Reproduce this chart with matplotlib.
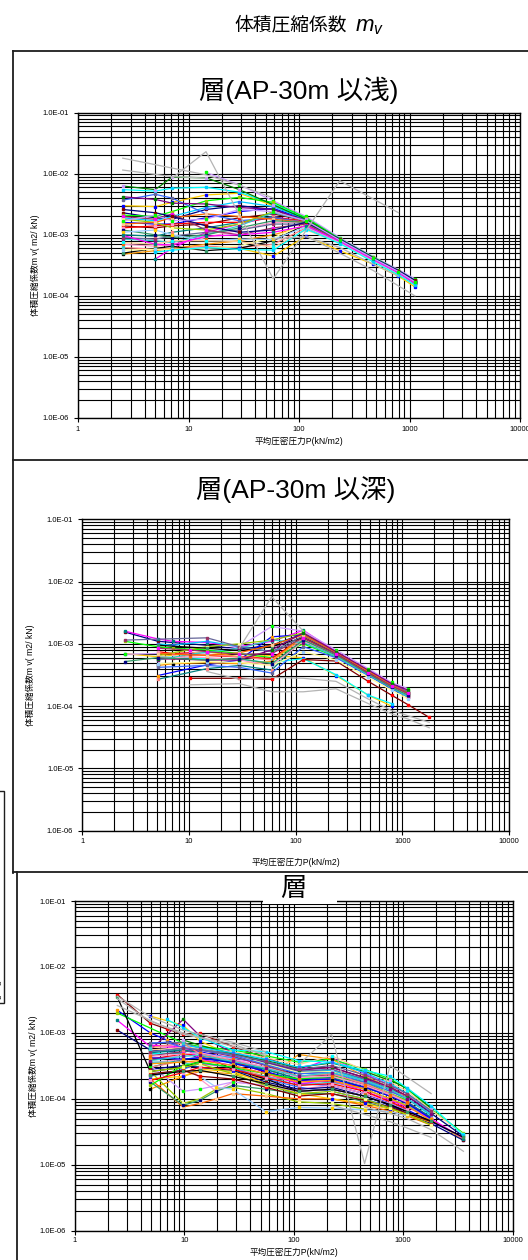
import numpy as np
import matplotlib
matplotlib.use("Agg")
import matplotlib.pyplot as plt
from matplotlib.ticker import LogLocator, NullFormatter
from matplotlib.lines import Line2D
from matplotlib.patches import Rectangle

plt.rcParams['font.family'] = ['Liberation Sans', 'Noto Sans CJK JP', 'DejaVu Sans']
plt.rcParams['mathtext.fontset'] = 'custom'
plt.rcParams['mathtext.it'] = 'Liberation Sans:italic'
plt.rcParams['mathtext.rm'] = 'Liberation Sans'

# ---------------------------------------------------------------- text
MAIN_TITLE = '体積圧縮係数'
MAIN_TITLE_SYMBOL = '$m_v$'
PANEL_TITLES = ['層(AP-30m 以浅)', '層(AP-30m 以深)', '層']
X_LABEL = '平均圧密圧力P(kN/m2)'
Y_LABEL = '体積圧縮係数m v( m2/ kN)'
X_TICKS = [1, 10, 100, 1000, 10000]
X_TICK_LABELS = ['1', '10', '100', '1000', '10000']
Y_TICKS = [1e-6, 1e-5, 1e-4, 1e-3, 1e-2, 1e-1]
Y_TICK_LABELS = ['1.0E-06', '1.0E-05', '1.0E-04', '1.0E-03', '1.0E-02', '1.0E-01']

UNIT = 1e-3  # coefficient values below are given in 1e-3 m2/kN

PALETTE = ['#000080', '#FF00FF', '#FFCC00', '#00FFFF', '#CC99FF', '#800000',
           '#008080', '#0000FF', '#00CCFF', '#00FF00', '#FF0000', '#FF8080',
           '#FF9900', '#3366FF', '#99CC00', '#FF99CC', '#33CCCC', '#000000',
           '#666699', '#FFFF99', '#FF6600', '#800080', '#339966', '#993366',
           '#99CCFF', '#FFCC99', '#008000']
GRAY = '#B4B4B4'

# ---------------------------------------------------------------- upper layer (shallower than AP-30m)
P1 = [2.54, 5.0, 7.1, 14.4, 28.8, 58.5, 115.7, 234, 470, 795, 1120]
MV1 = [
    [2.3, 1.9, 1.8, 2.6, 3.0, 2.6, 1.7, 0.82, 0.41, None, 0.17],
    [None, 0.40, 0.60, 1.1, 1.5, 2.0, 1.6, 0.80, 0.40, 0.25, 0.18],
    [3.0, 2.9, 3.4, 4.5, 4.8, 3.0, 1.8, 0.85, 0.42, 0.26, 0.17],
    [5.5, 5.2, 5.8, 6.0, 5.0, 3.2, 1.9, 0.88, 0.43, None, 0.18],
    [None, None, None, 10.5, 6.6, 3.6, 2.0, 0.90, 0.44, 0.27, 0.19],
    [1.4, 1.3, 1.4, 1.5, 1.9, 2.2, 1.7, 0.80, 0.40, None, 0.16],
    [1.0, 0.95, 1.1, 1.3, 1.6, 2.0, 1.5, 0.78, 0.39, 0.24, 0.16],
    [1.6, 1.5, 1.5, 1.9, 2.4, 2.7, 1.8, 0.83, 0.41, 0.25, 0.17],
    [1.9, 1.7, 2.0, 2.8, 3.5, 2.9, 1.8, 0.84, 0.42, None, 0.17],
    [2.1, 2.0, 2.4, 3.6, 4.1, 3.4, 1.9, 0.86, 0.43, 0.26, 0.18],
    [1.3, 1.4, 1.5, 1.6, 1.6, 1.9, 1.7, 0.82, 0.41, 0.25, 0.17],
    [0.62, 0.58, 0.60, 0.65, 0.62, 0.70, 1.3, 0.75, 0.38, 0.23, 0.155],
    [0.48, 0.55, 0.60, 0.70, 0.80, 1.0, 1.4, 0.78, 0.40, 0.26, 0.17],
    [3.7, 4.6, 4.0, 2.2, 1.7, 1.9, 1.6, 0.80, 0.40, 0.25, 0.165],
    [1.8, 1.6, 1.3, 1.2, 1.5, 2.4, 1.7, 0.81, None, None, None],
    [0.70, 0.65, 0.70, 0.9, 1.2, 1.6, 1.6, 0.80, 0.40, 0.24, 0.16],
    [0.85, 0.80, 0.75, 1.0, 1.4, 2.3, 1.7, 0.81, 0.40, 0.25, 0.17],
    [0.50, 0.60, 0.65, 0.55, 0.60, 0.80, 1.5, 0.78, 0.39, 0.24, 0.16],
    [0.90, 0.85, 0.95, 1.1, 1.2, 1.5, 1.5, 0.79, 0.39, None, 0.16],
    [0.56, 0.58, 0.58, 0.60, 0.66, 0.9, 1.5, 0.80, 0.40, 0.25, 0.17],
    [1.5, 1.6, 1.9, 2.2, 2.0, 1.8, 1.6, 0.79, 0.40, 0.25, 0.165],
    [4.2, 3.8, 3.3, 3.2, 2.8, 2.6, 1.7, 0.83, 0.41, 0.25, 0.17],
    [1.2, 1.0, 0.9, 1.0, 1.3, 1.7, 1.6, 0.80, 0.40, 0.25, 0.17],
    [2.0, 1.8, 2.2, 1.2, 1.0, 1.3, 1.5, 0.79, 0.39, None, 0.16],
    [1.1, 1.2, 1.0, 0.80, 0.85, 0.84, 1.35, 0.76, 0.38, 0.23, 0.15],
    [0.75, 0.70, 0.80, 0.80, 0.78, 0.62, 1.2, 0.74, 0.37, 0.22, 0.15],
    [6.3, 5.5, 8.8, 8.6, 5.5, 3.1, 1.8, 0.84, 0.42, None, None],
    [2.6, 2.3, 2.0, 1.4, 1.1, 1.2, 1.6, 0.85, 0.42, 0.26, 0.18],
    [0.98, 0.70, 0.68, 0.95, 1.0, 1.1, 1.4, 0.78, 0.39, 0.24, 0.16],
    [None, None, None, None, 0.60, 0.45, 0.95, 0.55, 0.33, 0.21, 0.14],
    [None, 0.52, 0.56, 0.62, 0.58, 0.56, 1.25, 0.72, 0.36, 0.22, 0.15],
    [1.7, 2.1, 1.7, 1.8, 2.6, 2.4, 1.7, 0.82, 0.41, 0.25, 0.17],
]
GRAY_P1 = [
    [2.54, 14.4, 28.8, 58.5],
    [2.54, 7.1, 14.4],
    [7.1, 14.4, 58.5, 234, 795],
    [115.7, 234, 470, 1120],
    [58.5, 115.7, 234, 470, 795],
]
GRAY_MV1 = [
    [18.0, 9.6, 6.5, 4.0],
    [11.5, 9.0, 8.5],
    [8.5, 23.0, 0.19, 7.7, 2.3],
    [0.95, 0.50, 0.26, 0.10],
    [0.85, 0.93, 0.62, 0.33, 0.21],
]

# ---------------------------------------------------------------- lower layer (deeper than AP-30m)
P2 = [2.5, 5.1, 7.1, 10.2, 14.7, 29.6, 59.6, 118, 239, 479, 793, 1136, 1787]
MV2 = [
    [1.55, 1.1, None, None, 0.95, 0.82, 0.95, 1.45, 0.72, 0.36, 0.22, 0.16, None],
    [1.6, 1.2, 1.1, None, 1.05, 0.90, 1.1, 1.65, 0.75, 0.37, 0.23, 0.17, None],
    [0.70, 0.62, None, None, 0.75, 0.62, 0.65, 0.60, 0.31, 0.15, 0.10, None, None],
    [None, 0.62, None, None, 0.58, 0.56, 0.50, 0.58, 0.32, 0.15, 0.11, None, None],
    [0.68, 0.70, None, 0.70, 0.72, 0.90, 1.9, 1.6, 0.80, 0.40, 0.24, 0.19, None],
    [None, None, None, 0.28, None, 0.28, 0.27, 0.56, 0.53, 0.25, 0.15, 0.105, 0.066],
    [None, 0.27, None, None, 0.40, 0.45, 0.38, 1.2, 0.62, 0.32, 0.19, 0.14, None],
    [None, 0.31, None, None, 0.46, 0.55, 1.3, 1.4, 0.70, 0.35, 0.21, 0.16, None],
    [None, 1.0, 0.95, None, 1.1, 0.90, 0.75, 1.15, 0.65, 0.33, 0.20, 0.15, None],
    [1.1, 0.90, 0.85, None, 0.80, 0.70, 0.60, 1.0, 0.62, 0.32, 0.20, 0.15, None],
    [None, 0.75, 0.70, 0.72, 0.65, 0.62, 0.58, 1.3, 0.70, 0.35, 0.21, 0.16, None],
    [None, 0.55, None, 0.65, 0.68, 0.62, 0.55, 1.2, 0.68, 0.34, 0.21, 0.155, None],
    [None, 0.45, 0.48, None, 0.50, 0.48, 0.52, 1.35, 0.72, 0.36, 0.22, 0.165, None],
    [None, 0.42, None, None, 0.45, 0.42, 0.34, 0.90, 0.60, 0.31, 0.19, 0.14, None],
    [None, 0.65, None, None, 0.90, 1.0, 1.15, 1.5, 0.74, 0.37, 0.22, 0.16, None],
    [None, 0.62, 0.60, 0.62, 0.60, 0.55, 0.45, 1.1, 0.66, 0.33, 0.20, 0.15, None],
    [None, 0.55, None, 0.68, None, 0.85, 1.15, 1.05, 0.63, 0.32, 0.20, 0.14, None],
    [None, 0.95, None, None, 0.85, 0.78, 0.90, 1.25, 0.70, 0.35, 0.22, 0.16, None],
    [1.15, None, None, None, 1.25, 0.90, 0.75, 1.35, 0.72, 0.36, 0.22, 0.17, None],
    [None, 0.48, None, None, 0.52, 0.50, 0.45, 0.75, 0.55, 0.29, 0.18, 0.13, None],
    [None, 0.70, None, None, 0.65, 0.72, 0.95, 1.4, 0.73, 0.36, 0.22, 0.16, None],
    [None, 0.58, None, None, 0.55, 0.55, 0.80, 1.5, 0.75, 0.38, 0.23, 0.18, None],
    [0.52, 0.60, None, None, 0.55, 0.58, 0.48, 1.15, 0.66, 0.33, 0.20, 0.15, None],
    [None, 0.85, None, 0.80, 0.75, 0.68, 0.70, 1.25, 0.69, 0.34, 0.21, 0.16, None],
]
GRAY_P2 = [
    [29.6, 59.6, 118],
    [10.2, 29.6, 59.6, 118, 239, 479, 793, 1136, 1787],
    [14.7, 29.6, 59.6, 118, 239, 479, 793, 1136, 1787],
]
GRAY_MV2 = [
    [0.85, 5.7, 1.6],
    [0.22, 0.23, 0.17, 0.17, 0.19, 0.11, 0.075, 0.062, 0.045],
    [0.36, 0.27, 0.29, 0.28, 0.25, 0.13, 0.085, 0.07, 0.055],
]

# ---------------------------------------------------------------- all layers
P3 = [2.45, 4.9, 6.9, 9.8, 13.9, 19.6, 27.7, 55.4, 111, 222, 444, 760, 1090, 1800, 3550]
MV3 = [
    [1.1, 0.55, None, 0.50, 0.42, None, 0.38, 0.30, 0.24, 0.26, 0.20, 0.14, 0.11, 0.060, 0.027],
    [1.55, 0.62, None, 0.60, 0.50, None, 0.42, 0.33, 0.27, 0.42, 0.24, 0.16, 0.12, 0.062, None],
    [None, 1.8, None, 1.3, 0.75, None, 0.45, 0.34, 0.21, 0.20, 0.14, 0.10, 0.080, 0.048, 0.024],
    [None, 0.48, None, 0.50, 0.62, None, 0.50, 0.38, 0.26, 0.28, 0.19, 0.13, 0.10, 0.055, None],
    [None, 0.40, None, 0.45, 0.50, None, 0.40, 0.30, 0.22, 0.24, 0.17, 0.12, 0.090, 0.050, None],
    [3.8, 1.4, 1.15, 0.95, 0.98, None, 0.62, 0.42, 0.28, 0.30, 0.21, 0.15, 0.11, None, None],
    [None, 0.30, None, 0.40, 0.42, None, 0.36, 0.28, 0.20, 0.22, 0.16, 0.11, 0.085, 0.050, None],
    [2.2, 1.0, 0.78, 0.60, 0.52, None, 0.40, 0.26, 0.17, 0.16, 0.12, 0.085, 0.068, 0.045, 0.026],
    [None, 0.50, 0.55, 0.55, 0.48, None, 0.42, 0.35, 0.25, 0.27, 0.19, 0.13, 0.10, None, None],
    [2.0, None, None, 0.70, 0.62, None, 0.55, 0.45, 0.36, 0.40, 0.28, 0.20, 0.14, 0.070, 0.030],
    [None, 0.40, None, 0.48, 0.45, None, 0.38, 0.25, 0.19, 0.18, 0.15, 0.11, 0.085, 0.050, None],
    [None, 0.30, None, 0.38, 0.34, None, 0.30, 0.22, 0.18, 0.21, 0.17, 0.13, 0.11, 0.070, None],
    [None, 0.14, None, 0.22, 0.26, None, 0.24, 0.20, 0.47, 0.40, 0.22, 0.15, 0.11, None, None],
    [None, 0.22, None, 0.28, 0.35, None, 0.30, 0.20, 0.15, 0.13, 0.10, 0.075, 0.060, None, None],
    [None, 0.26, None, 0.085, 0.10, 0.14, 0.15, 0.12, 0.090, 0.085, 0.070, None, None, None, None],
    [None, 0.35, None, 0.40, 0.20, 0.13, 0.18, 0.16, 0.14, 0.16, 0.12, 0.090, 0.070, None, None],
    [None, 0.36, None, 0.36, 0.30, None, 0.26, 0.22, 0.16, 0.18, 0.14, 0.10, 0.080, 0.048, None],
    [3.5, 0.26, None, 0.30, 0.37, 0.37, 0.28, 0.20, 0.13, 0.14, 0.11, 0.080, 0.065, None, None],
    [None, 0.70, None, 0.72, 0.58, None, 0.48, 0.36, 0.26, 0.28, 0.20, 0.14, 0.10, 0.058, None],
    [None, 0.60, None, 0.65, 0.55, None, 0.45, 0.34, 0.25, 0.26, 0.18, 0.125, 0.095, None, None],
    [None, 0.20, None, 0.075, 0.085, 0.10, 0.12, 0.11, 0.10, 0.10, 0.080, 0.065, 0.055, 0.040, None],
    [None, 0.55, None, 1.6, 0.90, None, 0.50, 0.36, 0.27, 0.30, 0.21, 0.15, 0.11, 0.062, None],
    [None, 0.18, None, 0.080, 0.095, 0.13, 0.16, 0.14, 0.12, 0.12, 0.090, 0.070, None, None, None],
    [None, 0.45, None, 0.52, 0.55, None, 0.44, 0.32, 0.22, 0.23, 0.16, 0.12, 0.090, 0.052, None],
    [None, None, None, None, 0.22, 0.15, 0.14, 0.064, 0.074, 0.072, 0.068, 0.064, 0.055, None, None],
    [None, 0.55, None, 0.60, 0.58, None, 0.52, 0.42, 0.33, 0.45, 0.27, 0.18, 0.13, 0.068, 0.029],
    [None, None, None, 0.78, 0.65, None, 0.48, 0.38, 0.30, 0.35, 0.26, 0.19, 0.145, 0.072, None],
    [None, 0.28, None, 0.32, 0.30, None, 0.27, 0.18, 0.14, 0.15, 0.11, 0.080, 0.060, 0.042, 0.0235],
    [None, 0.65, None, 0.62, 0.40, None, 0.32, 0.24, 0.17, 0.19, 0.13, 0.095, 0.075, 0.050, 0.025],
    [None, 0.20, None, 0.22, 0.28, None, 0.26, 0.17, 0.12, 0.10, 0.085, 0.070, 0.058, 0.044, None],
    [None, None, 1.6, 1.2, 0.85, None, 0.55, 0.52, 0.38, 0.36, 0.27, 0.22, 0.145, 0.078, 0.028],
    [None, 0.32, None, 0.13, 0.14, None, 0.18, 0.16, 0.13, 0.14, 0.11, 0.085, 0.066, None, None],
    [None, 0.24, None, 0.27, 0.22, None, 0.20, 0.15, 0.11, 0.12, 0.095, 0.075, 0.060, 0.045, None],
    [None, 0.50, None, 0.55, 0.50, None, 0.34, 0.28, 0.20, 0.21, 0.15, 0.11, 0.088, 0.052, None],
    [None, 0.42, None, 0.40, 0.42, None, 0.35, 0.26, 0.19, 0.20, 0.15, 0.11, 0.085, 0.050, None],
    [None, None, None, 0.65, 0.60, None, 0.50, 0.40, 0.30, 0.36, 0.25, 0.17, 0.12, 0.064, None],
    [None, 0.16, None, 0.32, 0.36, None, 0.30, 0.24, 0.20, 0.22, 0.18, 0.12, 0.095, None, None],
    [None, 0.19, None, 0.25, 0.30, None, 0.28, 0.21, 0.16, 0.17, 0.13, 0.090, 0.070, None, None],
    [None, 0.60, None, 0.70, 0.48, None, 0.38, 0.30, 0.22, 0.24, 0.17, 0.12, 0.090, None, None],
    [None, 0.34, None, 0.36, 0.38, None, 0.32, 0.24, 0.18, 0.19, 0.14, 0.10, 0.078, 0.046, None],
    [None, 0.70, 0.72, 0.60, 0.55, None, 0.46, 0.33, 0.24, 0.25, 0.18, 0.13, 0.10, 0.058, None],
    [None, 0.26, None, 0.30, 0.34, None, 0.24, 0.16, 0.12, 0.13, 0.10, 0.072, 0.058, 0.040, None],
    [None, 0.44, None, 0.48, 0.50, None, 0.40, 0.30, 0.21, 0.22, 0.16, 0.115, 0.088, None, None],
    [None, 0.38, None, 0.44, 0.46, None, 0.37, 0.29, 0.22, 0.25, 0.19, 0.14, 0.10, 0.058, None],
    [None, 0.23, None, 0.26, 0.27, None, 0.22, 0.17, 0.13, 0.14, 0.11, 0.082, 0.064, 0.046, 0.026],
    [None, 0.52, None, 0.58, 0.56, None, 0.47, 0.37, 0.28, 0.32, 0.23, 0.16, 0.12, 0.066, None],
]
GRAY_P3 = [
    [2.45, 4.9, 9.8, 27.7, 55.4],
    [2.45, 4.9, 9.8, 13.9, 27.7, 55.4],
    [2.45, 6.9, 9.8, 27.7, 55.4],
    [111, 222, 444, 760, 1800],
    [222, 444, 760, 1090, 1800],
    [444, 760, 1090, 1800, 3550],
]
GRAY_MV3 = [
    [3.6, 1.75, 1.1, 0.72, 0.52],
    [3.3, 1.5, 1.0, 0.85, 0.62, 0.48],
    [2.6, 1.2, 0.95, 0.68, 0.45],
    [0.33, 0.95, 0.0104, 0.32, 0.12],
    [0.080, 0.058, 0.045, 0.036, 0.026],
    [0.075, 0.060, 0.050, 0.034, 0.016],
]

# ---------------------------------------------------------------- figure
W, H, DPI = 528, 1260, 100
fig = plt.figure(figsize=(W / DPI, H / DPI), dpi=DPI)
fig.patch.set_facecolor('white')


def fx(x):
    return x / W


def fy(y):
    return 1 - y / H


def frame_line(x0, y0, x1, y1, lw=1.3, color='#1E1E1E'):
    fig.add_artist(Line2D([fx(x0), fx(x1)], [fy(y0), fy(y1)],
                          transform=fig.transFigure, color=color, lw=lw))


TICK_SIZE = 5.4
LABEL_SIZE = 6.2
TITLE_SIZE = 19


def draw_panel(box, px, series, gray_x, gray_series, title, title_y,
               xlabel_y, ylabel_x, xpad):
    left, top, right, bottom = box
    ax = fig.add_axes([fx(left), fy(bottom), fx(right - left), (bottom - top) / H])
    ax.set_xscale('log')
    ax.set_yscale('log')
    ax.set_xlim(1, 10000)
    ax.set_ylim(1e-6, 1e-1)
    ax.xaxis.set_minor_locator(LogLocator(base=10, subs=np.arange(2, 10)))
    ax.yaxis.set_minor_locator(LogLocator(base=10, subs=np.arange(2, 10)))
    ax.xaxis.set_minor_formatter(NullFormatter())
    ax.yaxis.set_minor_formatter(NullFormatter())
    ax.set_xticks(X_TICKS)
    ax.set_xticklabels(X_TICK_LABELS, fontsize=TICK_SIZE)
    ax.set_yticks(Y_TICKS)
    ax.set_yticklabels(Y_TICK_LABELS, fontsize=TICK_SIZE)
    ax.tick_params(which='major', direction='out', length=3, width=0.8,
                   color='black')
    ax.tick_params(axis='x', which='major', pad=xpad)
    ax.tick_params(axis='y', which='major', pad=3.5)
    ax.tick_params(which='minor', length=0)
    ax.grid(True, which='both', color='black', lw=0.8)
    ax.set_axisbelow(True)
    for s in ax.spines.values():
        s.set_color('black')
        s.set_linewidth(1.0)

    for i, ys in enumerate(series):
        xs = [p for p, v in zip(px, ys) if v is not None]
        vs = [v * UNIT for v in ys if v is not None]
        col = PALETTE[i % len(PALETTE)]
        mcol = PALETTE[(i + 5) % len(PALETTE)]
        ax.plot(xs, vs, color=col, lw=0.9, marker='s', markersize=2.0,
                markerfacecolor=mcol, markeredgecolor=mcol, zorder=3)
    for xs, ys in zip(gray_x, gray_series):
        ax.plot(xs, [v * UNIT for v in ys], color=GRAY, lw=0.9, zorder=3.5)

    ax.set_xlabel(X_LABEL, fontsize=LABEL_SIZE)
    ax.xaxis.set_label_coords(0.5, 1 - (xlabel_y - top) / (bottom - top),
                              transform=ax.transAxes)
    ax.xaxis.label.set_va('center')
    ax.set_ylabel(Y_LABEL, fontsize=LABEL_SIZE)
    ax.yaxis.set_label_coords((ylabel_x - left) / (right - left), 0.5,
                              transform=ax.transAxes)
    ax.yaxis.label.set_va('center')

    fig.text(fx((left + right) / 2), fy(title_y), title, fontsize=TITLE_SIZE,
             ha='center', va='center', zorder=10)
    return ax


# panel frames
frame_line(13, 51, W + 2, 51)
frame_line(13, 51, 13, 873)
frame_line(13, 460, W + 2, 460)
frame_line(13, 872, W + 2, 872)
frame_line(16.7, 872, 16.7, H + 2)

# main heading: Japanese words followed by the italic symbol
fig.text(fx(347), fy(25), MAIN_TITLE, fontsize=13.5, ha='right', va='center',
         family=['Noto Sans CJK JP', 'DejaVu Sans'])
fig.text(fx(355), fy(26), MAIN_TITLE_SYMBOL, fontsize=16, ha='left',
         va='center')

draw_panel((78, 112.7, 520, 418), P1, MV1, GRAY_P1, GRAY_MV1,
           PANEL_TITLES[0], 90, 441, 35, 2.6)
draw_panel((82.3, 519.3, 509, 830.7), P2, MV2, GRAY_P2, GRAY_MV2,
           PANEL_TITLES[1], 490, 862, 30, 2.6)

# white plate behind the title of the lowest panel
fig.add_artist(Rectangle((fx(263), fy(903.5)), fx(337 - 263), (903.5 - 874) / H,
                         transform=fig.transFigure, facecolor='white',
                         edgecolor='none', zorder=5))
draw_panel((74.7, 901, 512.7, 1230.7), P3, MV3, GRAY_P3, GRAY_MV3,
           PANEL_TITLES[2], 889, 1252, 33, 1.6)

# partly hidden note box on the left margin
fig.add_artist(Rectangle((fx(-20), fy(1003)), fx(24), (1003 - 791) / H,
                         transform=fig.transFigure, fill=False,
                         edgecolor='#1E1E1E', lw=1.0))
for y, s in [(983, '8'), (997, '5')]:
    fig.text(fx(0.5), fy(y), s, fontsize=6, rotation=90, ha='center',
             va='center')

fig.savefig('out.png', dpi=DPI, facecolor='white')
